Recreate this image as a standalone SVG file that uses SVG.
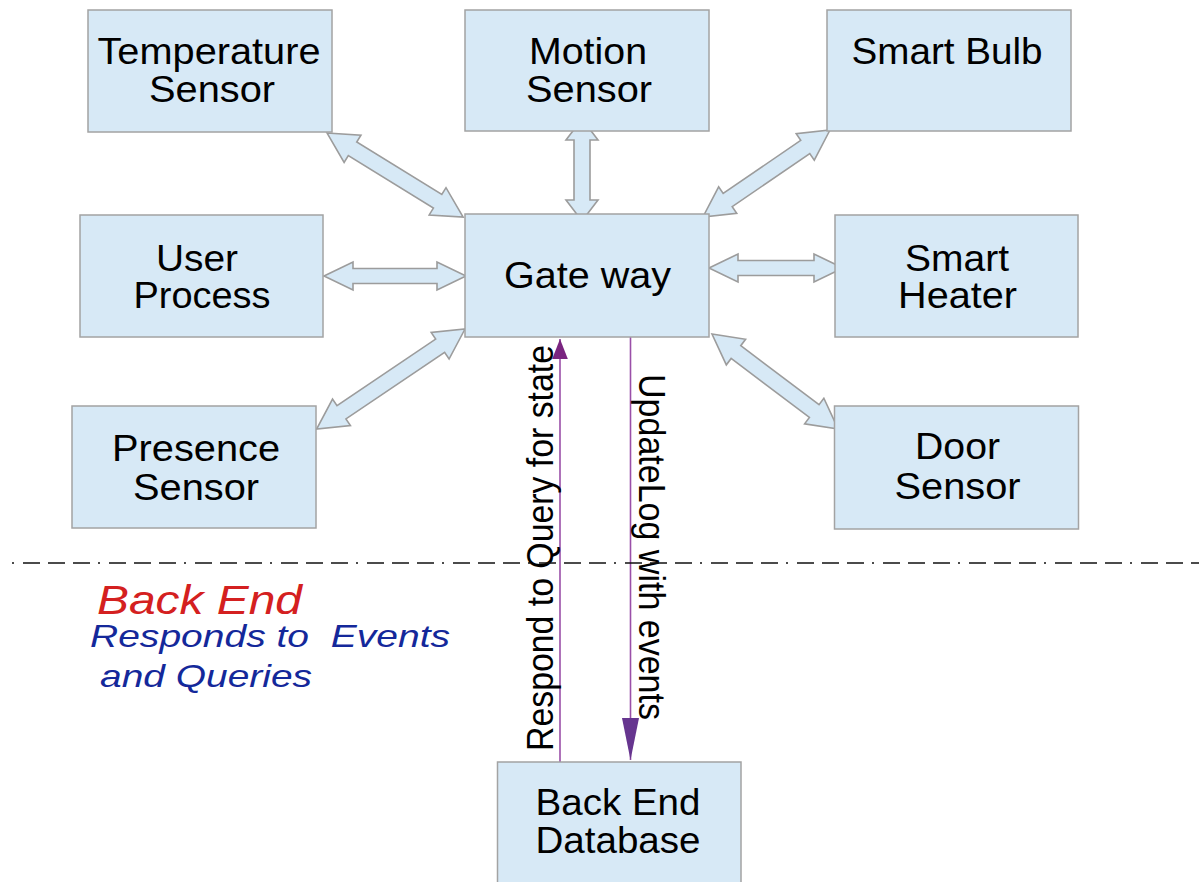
<svg xmlns="http://www.w3.org/2000/svg" width="1199" height="882" viewBox="0 0 1199 882">
<style>
.box{fill:#d7e9f6;stroke:#a3a3a3;stroke-width:1.5}
.t{font-family:"Liberation Sans",Arial,sans-serif;font-size:37px;fill:#000;text-anchor:middle}
.ba{fill:#d7e9f6;stroke:#9c9c9c;stroke-width:1.6;stroke-linejoin:miter}
.pl{stroke:#9a4fa8;stroke-width:1.6;fill:none}
.it{font-family:"Liberation Sans",Arial,sans-serif;font-style:italic}
.rt{font-family:"Liberation Sans",Arial,sans-serif;font-size:36px;fill:#000}
</style>
<defs>
<marker id="ahUp" markerUnits="userSpaceOnUse" markerWidth="20" markerHeight="24" refX="23" refY="9" orient="auto" viewBox="0 0 23 18">
<path d="M0,0 L23,9 L0,18 Z" fill="#7a2580"/>
</marker>
<marker id="ahDown" markerUnits="userSpaceOnUse" markerWidth="42" markerHeight="18" refX="42" refY="8.5" orient="auto" viewBox="0 0 42 17">
<path d="M0,0 L42,8.5 L0,17 Z" fill="#66358f"/>
</marker>
</defs>
<rect width="1199" height="882" fill="#fff"/>

<g id="connectors">
<polygon class="ba" transform="translate(327,133) rotate(31.7)" points="0,0 30,-16 30,-8 130,-8 130,-16 160,0 130,16 130,8 30,8 30,16"/>
<polygon class="ba" transform="translate(582,119) rotate(90)" points="0,0 21,-16 21,-8 81,-8 81,-16 102,0 81,16 81,8 21,8 21,16"/>
<polygon class="ba" transform="translate(830,130) rotate(145.6)" points="0,0 30,-16 30,-8 124,-8 124,-16 154,0 124,16 124,8 30,8 30,16"/>
<polygon class="ba" transform="translate(324,276)" points="0,0 29,-14 29,-7.5 113,-7.5 113,-14 142,0 113,14 113,7.5 29,7.5 29,14"/>
<polygon class="ba" transform="translate(465,329) rotate(146)" points="0,0 30,-16 30,-8 149,-8 149,-16 179,0 149,16 149,8 30,8 30,16"/>
<polygon class="ba" transform="translate(709,268)" points="0,0 29,-14 29,-7.5 105,-7.5 105,-14 134,0 105,14 105,7.5 29,7.5 29,14"/>
<polygon class="ba" transform="translate(712,334) rotate(37)" points="0,0 30,-16 30,-8 128,-8 128,-16 158,0 128,16 128,8 30,8 30,16"/>
<line class="pl" x1="560" y1="762" x2="560" y2="339" marker-end="url(#ahUp)"/>
<line class="pl" x1="630.5" y1="331" x2="630.5" y2="760" marker-end="url(#ahDown)"/>
<text class="rt" transform="translate(553,751) rotate(-90)" textLength="406" lengthAdjust="spacingAndGlyphs">Respond to Query for state</text>
<text class="rt" transform="translate(639,374) rotate(90)" textLength="346" lengthAdjust="spacingAndGlyphs">UpdateLog with events</text>
</g>

<g id="temperature-sensor">
<rect class="box" x="88" y="10" width="244" height="122"/>
<text class="t" x="209" y="64" textLength="223" lengthAdjust="spacingAndGlyphs">Temperature</text>
<text class="t" x="212" y="102" textLength="126" lengthAdjust="spacingAndGlyphs">Sensor</text>
</g>
<g id="motion-sensor">
<rect class="box" x="465" y="10" width="244" height="121"/>
<text class="t" x="588" y="64" textLength="118" lengthAdjust="spacingAndGlyphs">Motion</text>
<text class="t" x="589" y="102" textLength="126" lengthAdjust="spacingAndGlyphs">Sensor</text>
</g>
<g id="smart-bulb">
<rect class="box" x="827" y="10" width="244" height="121"/>
<text class="t" x="947" y="64" textLength="191" lengthAdjust="spacingAndGlyphs">Smart Bulb</text>
</g>
<g id="user-process">
<rect class="box" x="80" y="215" width="243" height="122"/>
<text class="t" x="197" y="271" textLength="82" lengthAdjust="spacingAndGlyphs">User</text>
<text class="t" x="202" y="308" textLength="137" lengthAdjust="spacingAndGlyphs">Process</text>
</g>
<g id="gateway">
<rect class="box" x="465" y="214" width="244" height="123"/>
<text class="t" x="587.5" y="288" textLength="167" lengthAdjust="spacingAndGlyphs">Gate way</text>
</g>
<g id="smart-heater">
<rect class="box" x="835" y="215" width="243" height="122"/>
<text class="t" x="957" y="271" textLength="104" lengthAdjust="spacingAndGlyphs">Smart</text>
<text class="t" x="957.5" y="308" textLength="119" lengthAdjust="spacingAndGlyphs">Heater</text>
</g>
<g id="presence-sensor">
<rect class="box" x="72" y="406" width="244" height="122"/>
<text class="t" x="196" y="461" textLength="168" lengthAdjust="spacingAndGlyphs">Presence</text>
<text class="t" x="196" y="500" textLength="126" lengthAdjust="spacingAndGlyphs">Sensor</text>
</g>
<g id="door-sensor">
<rect class="box" x="834.5" y="406" width="244" height="123"/>
<text class="t" x="957.5" y="459" textLength="85" lengthAdjust="spacingAndGlyphs">Door</text>
<text class="t" x="957.5" y="499" textLength="126" lengthAdjust="spacingAndGlyphs">Sensor</text>
</g>
<g id="back-end-database">
<rect class="box" x="497.5" y="762" width="243.5" height="130"/>
<text class="t" x="618" y="815" textLength="165" lengthAdjust="spacingAndGlyphs">Back End</text>
<text class="t" x="618" y="853" textLength="165" lengthAdjust="spacingAndGlyphs">Database</text>
</g>

<g id="backend-label">
<line x1="12" y1="563" x2="1199" y2="563" stroke="#111" stroke-width="1.3" stroke-dasharray="2 9 17 8 17 8 17 8"/>
<text class="it" x="97" y="614" font-size="41" fill="#d42020" textLength="205" lengthAdjust="spacingAndGlyphs">Back End</text>
<text class="it" x="90" y="647" font-size="32" fill="#14289a" textLength="360" lengthAdjust="spacingAndGlyphs" xml:space="preserve">Responds to  Events</text>
<text class="it" x="100" y="687" font-size="32" fill="#14289a" textLength="212" lengthAdjust="spacingAndGlyphs">and Queries</text>
</g>
</svg>
